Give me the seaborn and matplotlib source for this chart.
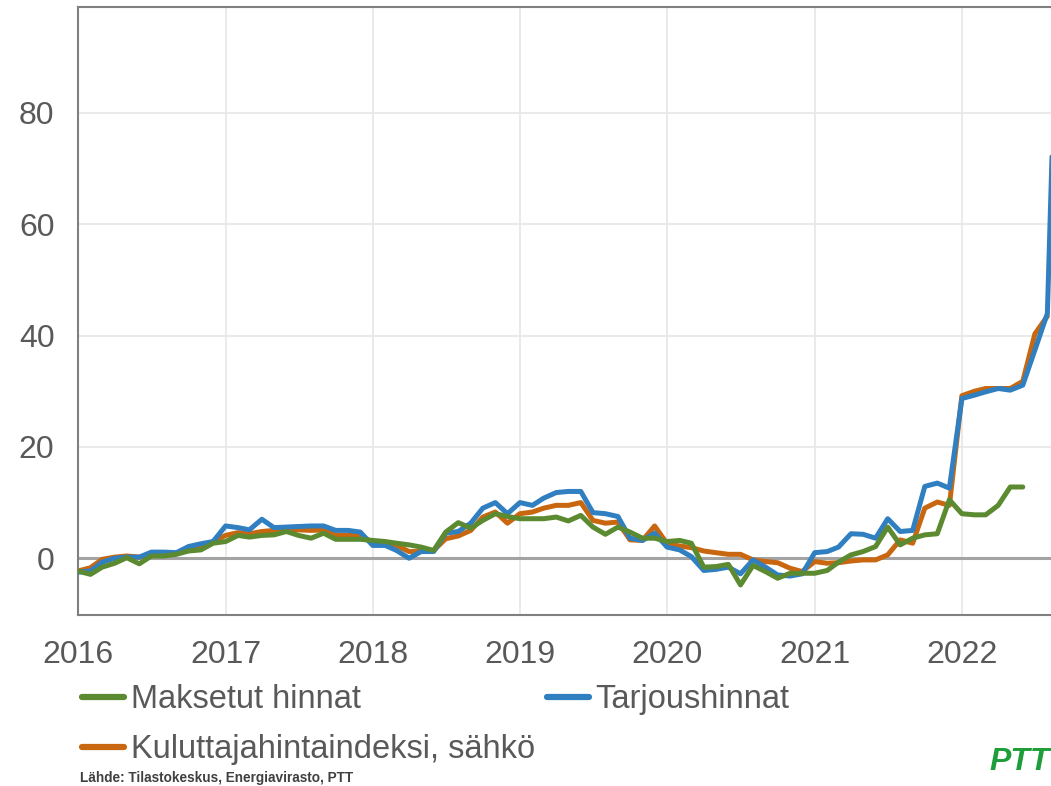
import pandas as pd
import numpy as np
import matplotlib.pyplot as plt
import seaborn as sns
from matplotlib.lines import Line2D

# Monthly change (%) from Jan 2016
start = '2016-01-01'

tarjous = [
    -2.5, -2.3, -0.7, 0.0, 0.2, 0.2, 1.1, 1.1, 1.0, 2.1, 2.6, 3.0,
    5.8, 5.5, 5.1, 7.0, 5.5, 5.6, 5.7, 5.8, 5.8, 5.0, 5.0, 4.7,
    2.3, 2.3, 1.4, 0.0, 1.2, 1.2, 4.5, 4.8, 6.3, 9.0, 10.0, 8.0,
    10.0, 9.5, 10.8, 11.8, 12.0, 12.0, 8.2, 8.0, 7.5, 3.6, 3.2, 4.5,
    2.0, 1.5, 0.3, -2.2, -2.0, -1.6, -2.8, -0.3, -1.6, -3.0, -3.2, -2.8,
    1.0, 1.2, 2.0, 4.4, 4.3, 3.6, 7.1, 4.8, 5.0, 12.9, 13.5, 12.6,
    28.7, 29.3, 29.9, 30.5, 30.2, 31.1, 37.4, 44.0, 120.0,
]

khi = [
    -2.3, -1.7, -0.2, 0.2, 0.4, 0.2, 0.6, 0.8, 0.9, 1.5, 2.1, 3.0,
    4.1, 4.6, 4.4, 4.8, 5.0, 5.0, 5.1, 5.0, 5.1, 4.1, 4.1, 4.1,
    2.8, 2.6, 2.3, 1.2, 1.2, 1.4, 3.5, 4.0, 5.0, 7.4, 8.3, 6.3,
    8.0, 8.3, 9.0, 9.5, 9.5, 10.0, 6.8, 6.3, 6.5, 3.3, 3.2, 5.8,
    2.6, 2.2, 1.9, 1.3, 1.0, 0.7, 0.7, -0.3, -0.6, -0.8, -1.8, -2.4,
    -0.6, -0.9, -0.8, -0.5, -0.3, -0.3, 0.6, 3.3, 2.7, 9.0, 10.1, 9.5,
    29.2, 30.0, 30.5, 30.5, 30.5, 31.8, 40.3, 43.5,
]

maksetut = [
    -2.3, -2.9, -1.6, -0.9, 0.1, -1.0, 0.4, 0.4, 0.7, 1.3, 1.5, 2.7,
    3.0, 4.1, 3.8, 4.1, 4.2, 4.8, 4.1, 3.6, 4.5, 3.4, 3.4, 3.4,
    3.2, 3.0, 2.7, 2.4, 2.0, 1.4, 4.7, 6.4, 5.4, 6.8, 8.0, 7.5,
    7.1, 7.1, 7.1, 7.4, 6.7, 7.7, 5.6, 4.3, 5.6, 4.7, 3.6, 3.6,
    3.0, 3.2, 2.7, -1.6, -1.5, -1.1, -4.8, -1.3, -2.4, -3.6, -2.7, -2.7,
    -2.7, -2.2, -0.7, 0.6, 1.2, 2.1, 5.6, 2.4, 3.6, 4.2, 4.4, 10.5,
    8.0, 7.8, 7.8, 9.5, 12.8, 12.8,
]

years = list(range(2016, 2023))
y_ticks = [0, 20, 40, 60, 80]

series = {
    'Kuluttajahintaindeksi, sähkö': khi,
    'Tarjoushinnat': tarjous,
    'Maksetut hinnat': maksetut,
}
colors = {
    'Maksetut hinnat': '#5b8a30',
    'Tarjoushinnat': '#2f7fc1',
    'Kuluttajahintaindeksi, sähkö': '#c8670f',
}

frames = []
for name, vals in series.items():
    frames.append(pd.DataFrame({
        'date': pd.date_range(start, periods=len(vals), freq='MS'),
        'value': vals,
        'series': name,
    }))
df = pd.concat(frames, ignore_index=True)

sns.set_theme(style='white')
plt.rcParams['font.family'] = ['Liberation Sans', 'DejaVu Sans']

fig = plt.figure(figsize=(10.51, 7.86), dpi=100)
ax = fig.add_axes([78 / 1051, 1 - 615 / 786, 973 / 1051, 608.3 / 786])

# grid and zero line
for y in years:
    ax.axvline(pd.Timestamp(f'{y}-01-01'), color='#e8e8e8', lw=1.3, zorder=0)
for v in y_ticks[1:]:
    ax.axhline(v, color='#e8e8e8', lw=1.3, zorder=0)
ax.axhline(0, color='#a3a3a3', lw=2.2, zorder=1)

sns.lineplot(data=df, x='date', y='value', hue='series',
             hue_order=list(series.keys()), palette=colors,
             linewidth=3.6, ax=ax, legend=False, zorder=3)

ax.set_xlim(pd.Timestamp('2016-01-01'), pd.Timestamp('2022-08-10'))
ax.set_ylim(-10.2, 99.1)
ax.set_xticks([pd.Timestamp(f'{y}-01-01') for y in years])
ax.set_xticklabels([str(y) for y in years])
ax.set_yticks(y_ticks)
ax.set_xlabel('')
ax.set_ylabel('')

for side in ['left', 'top', 'bottom']:
    ax.spines[side].set_color('#808080')
    ax.spines[side].set_linewidth(1.5)
ax.spines['right'].set_visible(False)

ax.tick_params(axis='both', colors='#808080', labelcolor='#595959',
               labelsize=23, length=7, width=1.3, direction='out')
ax.tick_params(axis='x', pad=11)
ax.tick_params(axis='y', pad=10)

# legend
order = ['Maksetut hinnat', 'Kuluttajahintaindeksi, sähkö', 'Tarjoushinnat']
handles = [Line2D([0], [0], color=colors[n], lw=4.5) for n in order]
fig.legend(handles, order, loc='upper left', bbox_to_anchor=(82 / 1051, 1 - 684 / 786),
           ncol=2, frameon=False, fontsize=23.5, handlelength=1.3,
           handletextpad=0.2, columnspacing=0.35, labelspacing=0.58,
           borderpad=0, borderaxespad=0, labelcolor='#595959')

fig.text(80 / 1051, 1 - 778 / 786, 'Lähde: Tilastokeskus, Energiavirasto, PTT',
         fontsize=9.8, weight='bold', color='#404040', va='center', ha='left')
fig.text(989 / 1051, 1 - 762 / 786, 'PTT', fontsize=23, weight='bold',
         style='italic', color='#1e9e3a', va='center', ha='left')

fig.savefig('out.png', dpi=100)
